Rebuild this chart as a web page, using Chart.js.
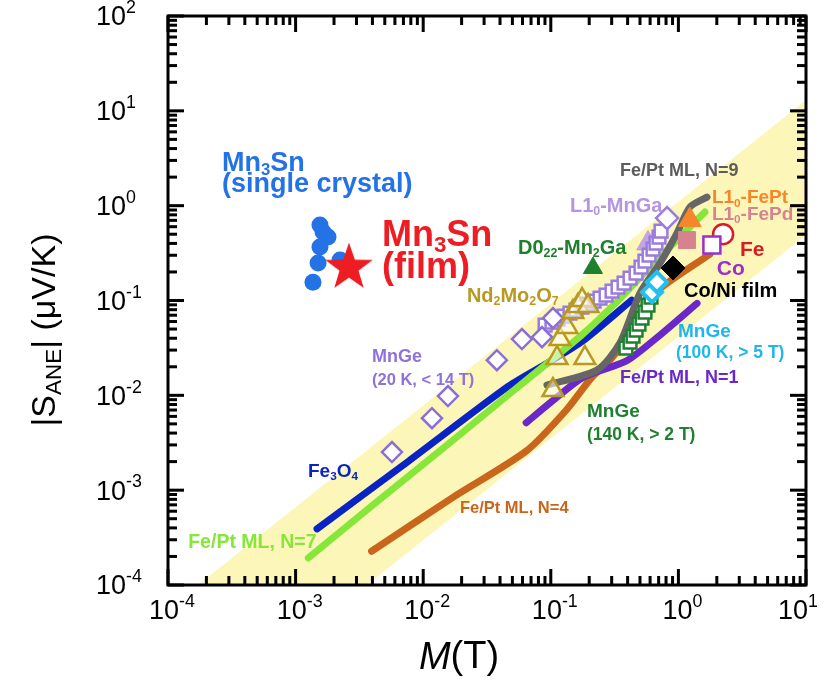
<!DOCTYPE html>
<html><head><meta charset="utf-8">
<script src="https://cdn.jsdelivr.net/npm/chart.js@4.4.0/dist/chart.umd.min.js"></script>
<style>html,body{margin:0;padding:0;background:#fff}canvas{display:block}</style>
</head><body>
<canvas id="c" width="830" height="690"></canvas>
<script>
// ---------------- DATA (M in tesla, S in µV/K) ----------------
const xTicks = [1e-4, 1e-3, 1e-2, 1e-1, 1, 10];
const xTickLabels = ['10^{-4}', '10^{-3}', '10^{-2}', '10^{-1}', '10^{0}', '10^{1}'];
const yTicks = [1e-4, 1e-3, 1e-2, 1e-1, 1, 10, 100];
const yTickLabels = ['10^{-4}', '10^{-3}', '10^{-2}', '10^{-1}', '10^{0}', '10^{1}', '10^{2}'];

// pale guide band (polygon corners)
const bandM = [1.72e-4, 10, 10, 3.63e-3];
const bandS = [1e-4, 13.0, 0.49, 1e-4];

const mn3snCrystalM = [1.552e-3, 1.64e-3, 1.795e-3, 1.552e-3, 1.50e-3, 2.23e-3, 1.368e-3];
const mn3snCrystalS = [0.624, 0.527, 0.467, 0.366, 0.248, 0.267, 0.156];
const mn3snFilmM = [2.62e-3];
const mn3snFilmS = [0.236];

const fe3o4M = [1.472e-3, 7.67e-3, 0.0469, 0.0951, 0.178, 0.43];
const fe3o4S = [3.91e-4, 2.02e-3, 0.01256, 0.0221, 0.0375, 0.101];

const fePtN7M = [1.259e-3, 4.09e-3, 0.01687, 0.0469, 0.1028, 0.178, 0.335, 0.568, 1.614];
const fePtN7S = [1.93e-4, 7.08e-4, 3.31e-3, 0.01023, 0.024, 0.0441, 0.0991, 0.209, 0.857];

const fePtN4M = [3.94e-3, 0.01687, 0.0641, 0.1303, 0.2089, 0.291, 0.395, 0.500, 0.708, 1.77];
const fePtN4S = [2.27e-4, 8.30e-4, 2.58e-3, 6.84e-3, 0.01538, 0.0235, 0.0411, 0.0736, 0.1318, 0.309];

const fePtN1M = [0.0641, 0.1028, 0.178, 0.392, 0.679, 1.40];
const fePtN1S = [5.14e-3, 8.71e-3, 0.01538, 0.02307, 0.0406, 0.0933];

const fePtN9M = [0.0933, 0.230, 0.348, 0.500, 0.718, 0.975, 1.233, 1.675];
const fePtN9S = [0.01282, 0.01845, 0.0356, 0.1197, 0.248, 0.514, 0.966, 1.23];

const mnGe20M = [0.00569, 0.01172, 0.01563, 0.0378, 0.0594, 0.0853, 0.104];
const mnGe20S = [0.00252, 0.00574, 0.00982, 0.0235, 0.0392, 0.0411, 0.0652];

const mnGaM = [0.0902, 0.1021, 0.1138, 0.1268, 0.1413, 0.1574, 0.1754, 0.1959, 0.2183, 0.2432, 0.2710, 0.3020,
  0.3365, 0.3750, 0.4178, 0.4656, 0.5093, 0.5470, 0.5888, 0.6324, 0.6668, 0.7047, 0.7311];
const mnGaS = [0.0551, 0.0592, 0.0637, 0.0684, 0.0736, 0.0793, 0.0851, 0.0916, 0.0986, 0.1059, 0.1140, 0.1256,
  0.1384, 0.1528, 0.1722, 0.1945, 0.2249, 0.2606, 0.3013, 0.3483, 0.4027, 0.4667, 0.5395];
const mnGaTopM = [0.815];
const mnGaTopS = [0.739];
const mnGaTriM = [0.578];
const mnGaTriS = [0.40];

const nd2mo2o7M = [0.104, 0.112, 0.185, 0.118, 0.134, 0.149, 0.163, 0.176, 0.196];
const nd2mo2o7S = [0.01135, 0.0247, 0.0247, 0.0392, 0.0524, 0.0755, 0.0873, 0.101, 0.0873];

const mn2GaM = [0.214];
const mn2GaS = [0.22];

const mnGe140M = [0.388, 0.418, 0.441, 0.466, 0.491, 0.519, 0.547, 0.578, 0.610];
const mnGe140S = [0.0315, 0.0364, 0.0421, 0.0487, 0.0564, 0.0652, 0.0755, 0.0894, 0.1086];

const mnGe100M = [0.621, 0.679];
const mnGe100S = [0.1227, 0.156];

const coNiM = [0.908];
const coNiS = [0.22];
const fePtL10M = [1.23];
const fePtL10S = [0.705];
const fePdL10M = [1.167];
const fePdL10S = [0.434];
const feM = [2.24];
const feS = [0.501];
const coM = [1.83];
const coS = [0.384];

const annotationText = [
  'Mn_{3}Sn', '(single crystal)', 'Mn_{3}Sn', '(film)', 'Fe/Pt ML, N=9', 'L1_{0}-FePt', 'L1_{0}-FePd',
  'L1_{0}-MnGa', 'Fe', 'Co', 'Co/Ni film', 'D0_{22}-Mn_{2}Ga', 'Nd_{2}Mo_{2}O_{7}', 'MnGe', '(100 K, > 5 T)',
  'MnGe', '(20 K, < 14 T)', 'Fe/Pt ML, N=1', 'MnGe', '(140 K, > 2 T)', 'Fe_{3}O_{4}', 'Fe/Pt ML, N=4', 'Fe/Pt ML, N=7'
];

// ---------------- PRESENTATION ----------------
const FONT = '"Liberation Sans", Arial, Helvetica, sans-serif';
// annotation anchors (data space, left edge / vertical middle) and styles
const annotationLayout = [
  {M: 2.65e-4, S: 2.81, size: 27, color: '#2373e6'},
  {M: 2.65e-4, S: 1.65, size: 27, color: '#2373e6'},
  {M: 4.75e-3, S: 0.478, size: 36, color: '#ee1c23'},
  {M: 4.75e-3, S: 0.22, size: 36, color: '#ee1c23'},
  {M: 0.348, S: 2.32, size: 18, color: '#5c5c5c'},
  {M: 1.83, S: 1.20, size: 19, color: '#f5862a'},
  {M: 1.83, S: 0.796, size: 19, color: '#d7838f'},
  {M: 0.1413, S: 0.99, size: 20, color: '#b395e0'},
  {M: 3.04, S: 0.340, size: 21, color: '#d71c24'},
  {M: 2.0, S: 0.214, size: 21, color: '#9a2fd0'},
  {M: 1.107, S: 0.1256, size: 20, color: '#000000'},
  {M: 0.0553, S: 0.357, size: 20, color: '#1e7f2c'},
  {M: 0.0220, S: 0.111, size: 20, color: '#b89a22'},
  {M: 0.993, S: 0.0465, size: 19, color: '#1fb6ec'},
  {M: 0.957, S: 0.0279, size: 17.5, color: '#1fb6ec'},
  {M: 3.97e-3, S: 0.0253, size: 18, color: '#8f72d9'},
  {M: 3.97e-3, S: 0.01445, size: 16.5, color: '#8f72d9'},
  {M: 0.348, S: 0.0152, size: 18, color: '#6a28c8'},
  {M: 0.192, S: 6.65e-3, size: 19, color: '#1e8030'},
  {M: 0.192, S: 3.80e-3, size: 17.5, color: '#1e8030'},
  {M: 1.25e-3, S: 1.55e-3, size: 19, color: '#0a24c4'},
  {M: 0.0194, S: 6.46e-4, size: 16.5, color: '#c9661c'},
  {M: 1.44e-4, S: 2.82e-4, size: 19.5, color: '#86e63a'}
];

function pts(ms, ss) { return ms.map((m, i) => ({x: m, y: ss[i]})); }

function makeStar(R, r, color) {
  const c = document.createElement('canvas');
  c.width = c.height = Math.ceil(2 * R + 2);
  const g = c.getContext('2d');
  g.translate(c.width / 2, c.height / 2 + R * 0.1);
  g.beginPath();
  for (let i = 0; i < 10; i++) {
    const a = -Math.PI / 2 + i * Math.PI / 5;
    const rr = i % 2 ? r : R;
    g.lineTo(rr * Math.cos(a), rr * Math.sin(a));
  }
  g.closePath();
  g.fillStyle = color;
  g.fill();
  return c;
}

function parseRich(str) {
  const parts = []; const re = /([_^~])\{([^}]*)\}/g; let last = 0, m;
  while ((m = re.exec(str))) {
    if (m.index > last) parts.push({t: str.slice(last, m.index)});
    parts.push({t: m[2], mode: m[1]});
    last = re.lastIndex;
  }
  if (last < str.length) parts.push({t: str.slice(last)});
  return parts;
}
function drawRich(ctx, str, x, y, size, opt) {
  const parts = parseRich(str);
  const w = opt.weight || 'normal';
  const small = size * (opt.subScale || 0.62);
  const fontOf = p => `${p.mode === '~' ? 'italic ' : ''}${w} ${(p.mode === '_' || p.mode === '^') ? small : size}px ${FONT}`;
  let total = 0;
  const widths = parts.map(p => { ctx.font = fontOf(p); const ww = ctx.measureText(p.t).width; total += ww; return ww; });
  ctx.save();
  ctx.translate(x, y);
  let cx = opt.align === 'center' ? -total / 2 : opt.align === 'right' ? -total : 0;
  ctx.textBaseline = 'middle'; ctx.textAlign = 'left'; ctx.fillStyle = opt.color || '#000';
  parts.forEach((p, i) => {
    ctx.font = fontOf(p);
    const dy = p.mode === '_' ? size * 0.27 : p.mode === '^' ? -size * 0.36 : 0;
    ctx.fillText(p.t, cx, dy);
    cx += widths[i];
  });
  ctx.restore();
  return total;
}

const decor = {
  id: 'decor',
  afterDraw(chart) {
    const {ctx, chartArea: a} = chart;
    const xs = chart.scales.x, ys = chart.scales.y;
    ctx.save();
    // ticks (inward, all four sides)
    ctx.fillStyle = '#000000';
    const major = 16, minor = 9, tw = 3;
    for (let i = 0; i < xTicks.length; i++) {
      for (let k = 1; k <= 9; k++) {
        if (k > 1 && i === xTicks.length - 1) break;
        const px = xs.getPixelForValue(xTicks[i] * k);
        const L = k === 1 ? major : minor;
        ctx.fillRect(px - tw / 2, a.bottom - L, tw, L);
        ctx.fillRect(px - tw / 2, a.top, tw, L);
      }
    }
    for (let i = 0; i < yTicks.length; i++) {
      for (let k = 1; k <= 9; k++) {
        if (k > 1 && i === yTicks.length - 1) break;
        const py = ys.getPixelForValue(yTicks[i] * k);
        const L = k === 1 ? major : minor;
        ctx.fillRect(a.left, py - tw / 2, L, tw);
        ctx.fillRect(a.right - L, py - tw / 2, L, tw);
      }
    }
    // frame
    ctx.strokeStyle = '#000';
    ctx.lineWidth = 3;
    ctx.strokeRect(a.left, a.top, a.right - a.left, a.bottom - a.top);

    // tick labels
    for (let i = 0; i < xTicks.length; i++) {
      const shift = i === xTicks.length - 1 ? -8 : 4;
      drawRich(ctx, xTickLabels[i], xs.getPixelForValue(xTicks[i]) + shift, a.bottom + 27, 27, {align: 'center', color: '#000', subScale: 0.66});
    }
    for (let i = 0; i < yTicks.length; i++) {
      drawRich(ctx, yTickLabels[i], 96, ys.getPixelForValue(yTicks[i]) + 2, 27, {align: 'left', color: '#000', subScale: 0.66});
    }
    // axis titles
    drawRich(ctx, '~{M}(T)', 459, 658, 38, {align: 'center', color: '#000'});
    ctx.save();
    ctx.translate(46, 330);
    ctx.rotate(-Math.PI / 2);
    drawRich(ctx, '|S_{ANE}| (\u03bcV/K)', 0, 0, 34, {align: 'center', color: '#000', subScale: 0.66});
    ctx.restore();

    // annotations
    annotationText.forEach((t, i) => {
      const L = annotationLayout[i];
      drawRich(ctx, t, xs.getPixelForValue(L.M), ys.getPixelForValue(L.S), L.size, {weight: 'bold', color: L.color, align: 'left', subScale: 0.62});
    });
    ctx.restore();
  }
};

function lineDs(ms, ss, color, order) {
  return {data: pts(ms, ss), showLine: true, borderColor: color, borderWidth: 7, pointRadius: 0,
    borderCapStyle: 'round', borderJoinStyle: 'round', tension: 0.25, fill: false, order};
}
function markDs(ms, ss, style, r, border, fill, bw, order, rot) {
  return {data: pts(ms, ss), showLine: false, pointStyle: style, pointRadius: r, pointBorderColor: border,
    pointBackgroundColor: fill, pointBorderWidth: bw, pointRotation: rot || 0, order};
}

new Chart(document.getElementById('c'), {
  type: 'scatter',
  data: {
    datasets: [
      {data: pts(bandM, bandS), showLine: true, fill: 'shape', backgroundColor: '#fdf6b9', borderWidth: 0, pointRadius: 0, order: 100, tension: 0},
      lineDs(fePtN4M, fePtN4S, '#c9661c', 60),
      lineDs(fePtN1M, fePtN1S, '#6a28c8', 59),
      lineDs(fe3o4M, fe3o4S, '#0a24c4', 58),
      lineDs(fePtN7M, fePtN7S, '#86e63a', 57),
      markDs(mnGe20M, mnGe20S, 'rectRot', 10, '#8a6ed8', '#ffffff', 2.5, 40),
      markDs(mnGaM, mnGaS, 'rect', 9, '#9a7be0', '#ffffff', 2.5, 41),
      markDs(mnGaTriM, mnGaTriS, 'triangle', 13, 'rgba(185,150,230,0.85)', 'rgba(185,150,230,0.85)', 1, 42),
      lineDs(fePtN9M, fePtN9S, '#666666', 35),
      markDs(mnGaTopM, mnGaTopS, 'rectRot', 11, '#9a7be0', '#ffffff', 2.5, 34),
      markDs(mnGe140M, mnGe140S, 'rect', 9, '#1e8030', '#ffffff', 2.5, 30),
      markDs(mnGe100M, mnGe100S, 'rectRot', 10, '#22bff0', '#ffffff', 4, 29),
      markDs(nd2mo2o7M, nd2mo2o7S, 'triangle', 12, '#b89a22', 'rgba(255,255,255,0.55)', 2.5, 20),
      markDs(mn2GaM, mn2GaS, 'triangle', 11, '#1e7f2c', '#1e7f2c', 1, 15),
      markDs(coNiM, coNiS, 'rectRot', 12, '#000000', '#000000', 1, 15),
      markDs(fePdL10M, fePdL10S, 'rect', 12, '#d7838f', '#d7838f', 1, 16),
      markDs(fePtL10M, fePtL10S, 'triangle', 13, '#f5862a', '#f5862a', 1, 15),
      markDs(feM, feS, 'circle', 10, '#d71c24', '#ffffff', 2.5, 14),
      markDs(coM, coS, 'rect', 12, '#9a2fd0', '#ffffff', 2.5, 13),
      markDs(mn3snCrystalM, mn3snCrystalS, 'circle', 8.5, '#2373e6', '#2373e6', 0, 8),
      {data: pts(mn3snFilmM, mn3snFilmS), showLine: false, pointStyle: makeStar(25, 10, '#ee1c23'), order: 5}
    ]
  },
  options: {
    responsive: false,
    animation: false,
    devicePixelRatio: 1,
    events: [],
    layout: {padding: {left: 168, right: 24, top: 16, bottom: 105}},
    plugins: {legend: {display: false}, tooltip: {enabled: false}},
    scales: {
      x: {type: 'logarithmic', min: 1e-4, max: 10, display: false},
      y: {type: 'logarithmic', min: 1e-4, max: 100, display: false}
    }
  },
  plugins: [decor]
});
</script>
</body></html>
